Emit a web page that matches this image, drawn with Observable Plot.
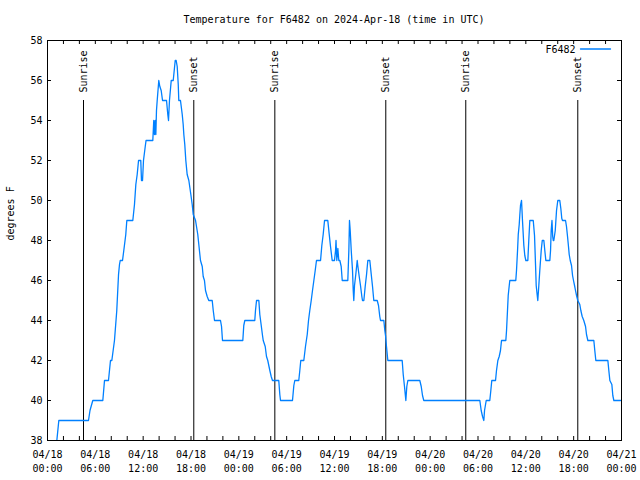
<!DOCTYPE html>
<html>
<head>
<meta charset="utf-8">
<script src="https://cdn.jsdelivr.net/npm/d3@7"></script>
<script src="https://cdn.jsdelivr.net/npm/@observablehq/plot@0.6"></script>
<style>
  html, body { margin: 0; padding: 0; background: white; }
  #title { width: 640px; height: 30px; box-sizing: border-box; padding: 15px 19px 0 47px;
    font: 10px/10px "DejaVu Sans Mono", monospace; text-align: center; color: black; }
</style>
</head>
<body>
<div id="title"></div>
<div id="chart"></div>
<script>
const titleText = "Temperature for F6482 on 2024-Apr-18 (time in UTC)";
const seriesName = "F6482";
const yLabel = "degrees F";
const start = "2024-04-18T00:00Z";
const end = "2024-04-21T00:00Z";

// hours after 2024-04-18 00:00 UTC
const hours = [1.17,1.42,5.14,5.33,5.68,6.94,7.15,7.65,7.90,8.07,
8.40,8.69,8.91,9.03,9.12,9.41,9.57,9.82,9.95,10.70,
10.91,11.08,11.25,11.42,11.70,11.79,11.92,12.04,12.26,12.36,
13.21,13.33,13.42,13.51,13.59,13.67,13.76,13.96,14.09,14.26,
14.43,14.93,15.09,15.18,15.30,15.52,15.77,16.02,16.14,16.27,
16.40,16.47,16.68,16.90,17.02,17.10,17.22,17.35,17.52,17.73,
17.98,18.15,18.28,18.57,18.85,18.98,19.11,19.19,19.41,19.53,
19.69,19.82,20.03,20.23,20.66,20.79,20.95,21.70,21.83,21.95,
24.50,24.62,24.75,26.00,26.09,26.22,26.51,26.63,26.81,26.97,
27.06,27.31,27.47,27.63,27.89,28.06,28.22,29.01,29.14,29.23,
30.73,30.90,31.02,31.52,31.65,31.77,32.15,32.36,32.58,32.74,
32.90,33.08,33.24,33.41,33.58,33.74,34.25,34.41,34.58,34.75,
35.16,35.34,35.50,35.71,36.00,36.13,36.19,36.29,36.42,36.54,
36.67,36.84,36.97,37.67,37.80,37.88,37.97,38.10,38.26,38.35,
38.42,38.51,38.67,38.85,38.92,39.10,39.26,39.43,39.51,39.68,
39.85,40.02,40.18,40.43,40.61,40.77,40.93,41.36,41.52,41.68,
41.77,42.19,42.31,42.40,42.52,42.69,44.49,44.62,44.78,44.95,
45.07,45.20,46.70,46.88,47.04,47.20,54.23,54.40,54.57,54.73,
54.82,55.03,55.48,55.61,55.73,56.20,56.32,56.49,56.66,56.82,
56.95,57.49,57.58,57.70,57.79,57.92,57.99,58.74,58.83,58.96,
59.05,59.17,59.25,59.33,59.46,59.58,59.75,59.87,60.00,60.25,
60.37,60.50,60.93,61.09,61.22,61.30,61.43,61.50,61.63,61.75,
61.93,62.06,62.26,62.38,62.51,63.01,63.10,63.18,63.28,63.37,
63.44,63.51,63.69,63.85,64.01,64.26,64.39,64.51,64.60,64.98,
65.10,65.23,65.35,65.44,65.57,65.73,65.86,65.98,66.11,66.23,
66.36,66.52,66.77,66.90,67.07,67.27,67.49,67.61,67.78,68.53,
68.65,68.78,70.29,70.41,70.54,70.79,70.91,71.04,71.88];

const tempF = [38,39,39,39.5,40,40,41,41,42,42,
43,44.5,46.3,46.8,47,47,47.5,48.3,49,49,
49.8,50.8,51.3,52,52,51,51,52,52.7,53,
53,54,53.3,54,53.3,54.5,55,56,55.7,55.5,
55,55,54.3,54,55,56,56,57,57,56.7,
55.8,55,55,54.3,53.8,53.3,52.8,52,51.3,51,
50.3,49.8,49.3,49,48.3,47.8,47.3,47,46.7,46.2,
46,45.5,45.2,45,45,44.5,44,44,43.7,43,
43,43.75,44,44,44.5,45,45,44.3,43.75,43.25,
43,42.7,42.2,42,41.5,41.2,41,41,40.3,40,
40,40.75,41,41,41.5,42,42,42.7,43.3,44,
44.5,45,45.5,46,46.5,47,47,47.75,48.3,49,
49,48.3,47.7,47,47,47.5,48,47,47.6,47,
47,46.7,46,46,47.5,49,48.5,47.5,46.5,45.5,
45,45.75,46.3,47,46.75,46.2,45.75,45.2,45,45,
45.7,46.3,47,47,46.3,45.7,45,45,44.75,44.2,
44,44,43.5,43.25,42.7,42,42,41.3,40.7,40,
40.7,41,41,40.7,40.25,40,40,39.5,39.2,39,
39.5,40,40,40.5,41,41,41.5,42,42.2,42.5,
43,43,43.5,44.5,45.25,45.75,46,46,46.5,47.5,
48.3,48.8,49.3,49.75,50,49,47.75,47.25,47,47,
48,49,49,48.25,46.75,45.75,45.25,45,45.75,46.5,
47.5,48,48,47.5,47,47,47.5,48.5,49,48.2,
48,48,48.5,49.5,50,50,49.6,49.1,49,49,
48.7,48.2,47.7,47.3,47,46.75,46.25,46,45.75,45.5,
45.25,45,44.8,44.5,44.2,44,43.7,43.3,43,43,
42.5,42,42,41.5,41,40.8,40.25,40,40];

const eventLabels = ["Sunrise","Sunset","Sunrise","Sunset","Sunrise","Sunset"];
const eventTimes = ["2024-04-18T04:31Z","2024-04-18T18:21Z","2024-04-19T04:31Z",
                    "2024-04-19T18:26Z","2024-04-20T04:28Z","2024-04-20T18:31Z"];
const eventTop = 55;

const yDomain = [38, 58];
const yTicks = [38,40,42,44,46,48,50,52,54,56,58];
const xLabelStepHours = 6;
const xTickStepHours = 2;

// ---- build ----
document.getElementById("title").textContent = titleText;
const t0 = new Date(start);
const t1 = new Date(end);
const data = hours.map((h, i) => ({time: new Date(+t0 + h * 3600e3), temp: tempF[i]}));
const events = eventTimes.map((t, i) => ({time: new Date(t), label: eventLabels[i]}));
const xLabelTicks = d3.utcHour.every(xLabelStepHours).range(t0, new Date(+t1 + 1));
const xTicks = d3.utcHour.every(xTickStepHours).range(t0, new Date(+t1 + 1));

const W = 640, H = 450, mL = 47, mR = 19, mT = 10, mB = 40;
const frameW = W - mL - mR, frameH = H - mT - mB;
const tickLen = 4;
const blue = "#0080ff";

const chart = Plot.plot({
  width: W, height: H,
  marginLeft: mL, marginRight: mR, marginTop: mT, marginBottom: mB,
  style: {fontFamily: "'DejaVu Sans Mono', monospace", fontSize: "10px", background: "white", color: "black"},
  x: {type: "utc", domain: [t0, t1]},
  y: {domain: yDomain},
  marks: [
    Plot.frame({stroke: "black", strokeWidth: 1}),
    // inward ticks
    Plot.tickX(xTicks, {x: d => d, stroke: "black", insetTop: frameH - tickLen}),
    Plot.tickX(xTicks, {x: d => d, stroke: "black", insetBottom: frameH - tickLen}),
    Plot.tickY(yTicks, {y: d => d, stroke: "black", insetRight: frameW - tickLen}),
    Plot.tickY(yTicks, {y: d => d, stroke: "black", insetLeft: frameW - tickLen}),
    Plot.axisX({ticks: xLabelTicks, tickSize: 0, tickPadding: 7, lineHeight: 1.45,
      tickFormat: d3.utcFormat("%m/%d\n%H:%M"), label: null, fill: "black"}),
    Plot.axisY({ticks: yTicks, tickSize: 0, tickPadding: 5, label: null, fill: "black"}),
    Plot.text([yLabel], {frameAnchor: "left", rotate: -90, dx: -37, fill: "black"}),
    // sunrise / sunset
    Plot.ruleX(events, {x: "time", y1: yDomain[0], y2: eventTop, stroke: "black", strokeWidth: 1}),
    Plot.text(events, {x: "time", y: eventTop, text: "label", rotate: -90, textAnchor: "start",
      lineAnchor: "middle", dy: -8, fill: "black"}),
    // series
    Plot.line(data, {x: "time", y: "temp", stroke: blue, strokeWidth: 1.3, clip: true}),
    // legend
    Plot.text([seriesName], {frameAnchor: "top-right", dx: -46, dy: 9, textAnchor: "end",
      lineAnchor: "middle", fill: "black"}),
    Plot.vector([seriesName], {frameAnchor: "top-right", dx: -11, dy: 8.5, rotate: 90, length: 30,
      anchor: "end", stroke: blue, strokeWidth: 1.3,
      shape: {draw(context, l) { context.moveTo(0, 0); context.lineTo(0, -l); }}})
  ]
});
document.getElementById("chart").appendChild(chart);
</script>
</body>
</html>
